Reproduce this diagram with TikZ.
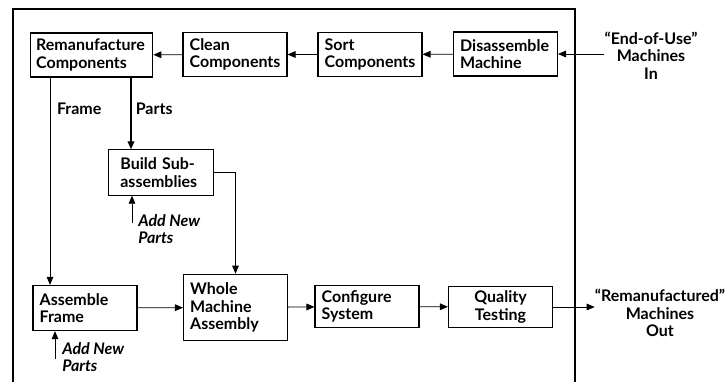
\documentclass[tikz,border=0pt]{standalone}
\usepackage{fontspec}
\setmainfont{Lato}
\usepackage{tikz}
\usetikzlibrary{positioning, arrows.meta}

\tikzstyle{stage} = [rectangle, draw=black, thick, inner xsep=5pt, inner ysep=2pt, text width=68pt, minimum height=33pt, align=left, font=\bfseries\fontsize{12}{13}\selectfont]
\tikzstyle{outside} = [inner sep=0pt, align=center, font=\bfseries\fontsize{12}{13}\selectfont]
\tikzstyle{newparts} = [inner sep=0pt, align=left, font=\bfseries\itshape\fontsize{12}{13}\selectfont]
\tikzstyle{flowlabel} = [inner sep=0pt, font=\bfseries\fontsize{12}{13}\selectfont]
\tikzstyle{arrow} = [semithick, -{Triangle[length=6pt,width=5pt]}]

\begin{document}
\begin{tikzpicture}[x=0.75pt, y=-0.75pt]
        \useasboundingbox (0,0) rectangle (728,382);
        % plant boundary, open at the bottom
        \draw [thick] (13,382) -- (13,9) -- (575,9) -- (575,382);

        \node (remanu) [stage, text width=83pt, inner xsep=4.5pt] at (91.5,55) {Remanufacture\\Components};
        \node (clean) [stage] at (235,54.5) {Clean\\Components};
        \node (sort) [stage] at (370,54.5) {Sort\\Components};
        \node (disassemble) [stage] at (505.5,54) {Disassemble\\Machine};
        \node (machinesin) [outside] at (651,55.5) {“End-of-Use”\\Machines\\In};

        \node (build) [stage, minimum height=34pt, inner xsep=9pt, text width=61pt] at (161,172.5) {Build Sub-\\assemblies};
        \node (assemble) [stage, minimum height=34pt] at (85,308) {Assemble\\Frame};
        \node (whole) [stage, minimum height=50pt] at (235.5,307.5) {Whole\\Machine\\Assembly};
        \node (configure) [stage, minimum height=31pt] at (367,306.5) {Configure\\System};
        \node (quality) [stage, minimum height=31pt, align=center] at (500.5,307) {Quality\\Testing};
        \node (machinesout) [outside] at (660,313) {“Remanufactured”\\Machines\\Out};

        \coordinate (newbuild) at (132,223);
        \coordinate (newframe) at (55,359);
        \node (addbuild) [newparts, anchor=north west] at (138,214) {Add New\\Parts};
        \node (addframe) [newparts, anchor=north west] at (62,342) {Add New\\Parts};

        \draw [arrow] (machinesin.west |- disassemble.east) -- (disassemble.east);
        \draw [arrow] (disassemble) -- (sort);
        \draw [arrow] (sort) -- (clean);
        \draw [arrow] (clean) -- (remanu);
        \draw [arrow] (50,0 |- remanu.south) -- (50,0 |- assemble.north)
                node [flowlabel, pos=0.15, right=5pt] {Frame};
        \draw [arrow, very thick] (131,0 |- remanu.south) -- (131,0 |- build.north)
                node [flowlabel, pos=0.44, right=3pt] {Parts};
        \draw [arrow] (newbuild) -- (newbuild |- build.south);
        \draw [arrow] (newframe) -- (newframe |- assemble.south);
        \draw [arrow] (build.east) -| (whole.north);
        \draw [arrow] (assemble) -- (whole);
        \draw [arrow] (whole) -- (configure);
        \draw [arrow] (configure) -- (quality);
        \draw [arrow] (quality.east) -- (quality.east -| machinesout.west);
\end{tikzpicture}
\end{document}
